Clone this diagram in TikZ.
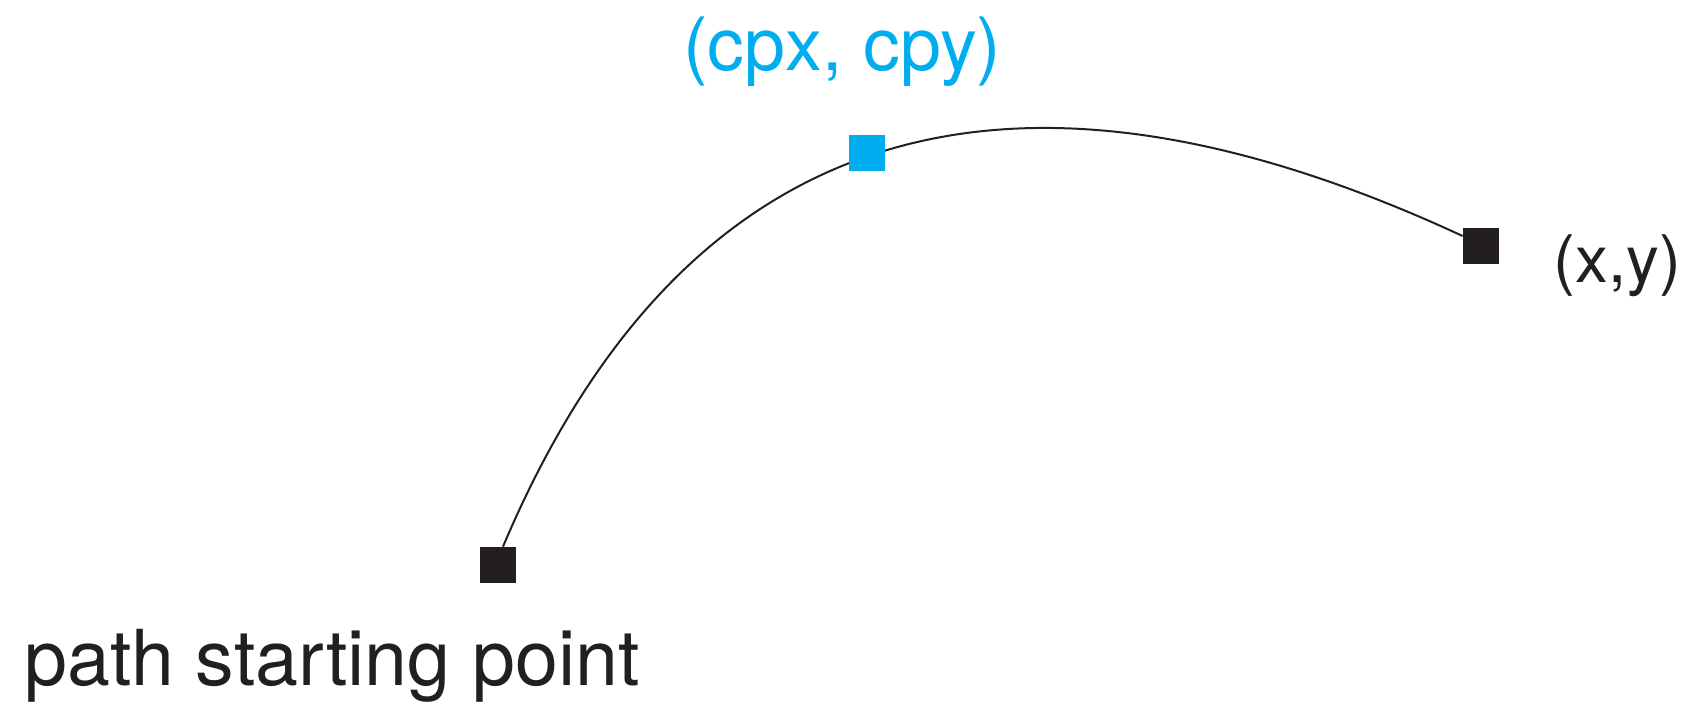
\documentclass[tikz,border=0pt]{standalone}
\usepackage{fontspec}
\setmainfont{TeX Gyre Heros}
\usepackage{xcolor}
\usepackage{tikz}
\usetikzlibrary{positioning}
\definecolor{ink}{RGB}{35, 31, 32}
\definecolor{cyanpt}{RGB}{0, 174, 239}

\begin{document}
\begin{tikzpicture}[
  x=0.5pt, y=-0.5pt,
  knot/.style  = {rectangle, fill=ink, minimum size=18pt, inner sep=0pt},
  ctrl/.style  = {knot, fill=cyanpt},
  curve/.style = {draw=ink, line width=1pt},
  lbl/.style   = {inner sep=0pt, anchor=base west, text=ink},
]
  \useasboundingbox (0,0) rectangle (1689,707);

  % Points
  \node[knot] (start) at (498,565) {};
  \node[knot] (end)   at (1481,245.5) {};
  \coordinate (c1) at (681,126);
  \coordinate (c2) at (1001,22);

  % Curve
  \draw[curve] ([xshift=2.5pt]start.north) .. controls (c1) and (c2) .. ([yshift=4.75pt]end.west);

  % Control point
  \node[ctrl] (cp) at (867,153) {};

  % Labels
  \node[lbl] (startlbl) at (24,685) {\fontsize{38.6}{40}\selectfont path starting point};
  \node[lbl, text=cyanpt] (cplbl) at (683,70) {\fontsize{36.8}{38}\selectfont (cpx, cpy)};
  \node[lbl] (endlbl) at (1553,282) {\fontsize{32.8}{34}\selectfont (x,y)};
\end{tikzpicture}
\end{document}
